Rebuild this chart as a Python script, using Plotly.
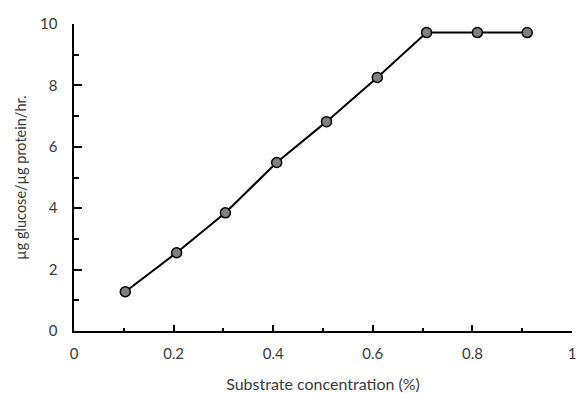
import plotly.graph_objects as go

# Substrate concentration (%) and specific activity (µg glucose / µg protein / hr)
concentration = [0.103, 0.206, 0.304, 0.407, 0.507, 0.609, 0.708, 0.81, 0.91]
activity = [1.28, 2.55, 3.85, 5.49, 6.82, 8.26, 9.72, 9.72, 9.72]

x_ticks = [0, 0.2, 0.4, 0.6, 0.8, 1]
x_tick_labels = ["0", "0.2", "0.4", "0.6", "0.8", "1"]
y_ticks = [0, 2, 4, 6, 8, 10]
y_tick_labels = ["0", "2", "4", "6", "8", "10"]

font_family = "Lato, 'Open Sans', sans-serif"
text_color = "#3a3a3a"

fig = go.Figure(
    go.Scatter(
        x=concentration,
        y=activity,
        mode="lines+markers",
        line=dict(color="black", width=2),
        marker=dict(size=10, color="#808080", line=dict(color="black", width=1.5)),
        showlegend=False,
    )
)

fig.update_layout(
    width=578,
    height=393,
    margin=dict(l=74, r=6, t=24, b=62),
    paper_bgcolor="white",
    plot_bgcolor="white",
    font=dict(family=font_family, size=15, color=text_color),
)

fig.update_xaxes(
    range=[0, 1],
    tickvals=x_ticks,
    ticktext=x_tick_labels,
    ticks="inside",
    ticklen=6,
    tickwidth=2,
    tickcolor="black",
    showline=True,
    linecolor="black",
    linewidth=2,
    showgrid=False,
    zeroline=False,
    automargin=False,
    minor=dict(dtick=0.1, ticks="inside", ticklen=3, tickwidth=2, tickcolor="black"),
    title=dict(text="Substrate concentration (%)", font=dict(size=16), standoff=18),
    ticklabelstandoff=8,
)

# trailing no-break spaces push the y labels away from the axis line
fig.update_yaxes(
    range=[0, 10],
    tickvals=y_ticks,
    ticktext=[t + "\u00a0\u00a0\u00a0" for t in y_tick_labels],
    ticks="inside",
    ticklen=8,
    tickwidth=2,
    tickcolor="black",
    showline=True,
    linecolor="black",
    linewidth=2,
    showgrid=False,
    zeroline=False,
    automargin=False,
    minor=dict(dtick=1, ticks="inside", ticklen=5, tickwidth=2, tickcolor="black"),
    title=dict(text="µg glucose/µg protein/hr.", font=dict(size=14.5), standoff=10),
)

fig.write_html("out.html")
